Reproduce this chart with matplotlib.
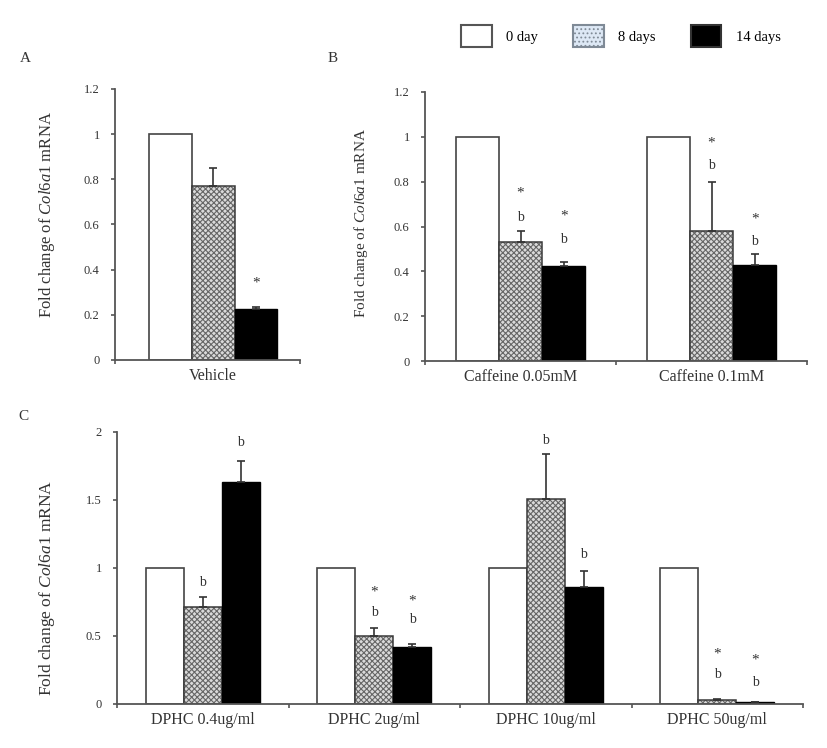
import numpy as np
import matplotlib
matplotlib.use('Agg')
import matplotlib.pyplot as plt
from matplotlib.patches import Patch
from matplotlib.ticker import FuncFormatter

plt.rcParams['font.family'] = ['Liberation Serif', 'DejaVu Serif']
plt.rcParams['mathtext.fontset'] = 'custom'
plt.rcParams['mathtext.rm'] = 'Liberation Serif'
plt.rcParams['mathtext.it'] = 'Liberation Serif:italic'
plt.rcParams['hatch.linewidth'] = 0.8

# ---- data ----
groups_a = ['Vehicle']
day0_a = [1.0]
day8_a = [0.77]
err8_a = [0.08]
day14_a = [0.226]
err14_a = [0.01]
notes_a = [(0, 2, '*', 0.34)]

groups_b = ['Caffeine 0.05mM', 'Caffeine 0.1mM']
day0_b = [1.0, 1.0]
day8_b = [0.53, 0.58]
err8_b = [0.05, 0.22]
day14_b = [0.424, 0.427]
err14_b = [0.018, 0.05]
notes_b = [(0, 1, 'b', 0.642), (0, 1, '*', 0.749),
           (0, 2, 'b', 0.544), (0, 2, '*', 0.647),
           (1, 1, 'b', 0.87), (1, 1, '*', 0.972),
           (1, 2, 'b', 0.531), (1, 2, '*', 0.633)]

groups_c = ['DPHC 0.4ug/ml', 'DPHC 2ug/ml', 'DPHC 10ug/ml', 'DPHC 50ug/ml']
day0_c = [1.0, 1.0, 1.0, 1.0]
day8_c = [0.713, 0.50, 1.51, 0.03]
err8_c = [0.074, 0.06, 0.33, 0.005]
day14_c = [1.63, 0.42, 0.86, 0.012]
err14_c = [0.16, 0.02, 0.12, 0.005]
notes_c = [(0, 1, 'b', 0.89), (0, 2, 'b', 1.92),
           (1, 1, 'b', 0.67), (1, 1, '*', 0.82),
           (1, 2, 'b', 0.62), (1, 2, '*', 0.76),
           (2, 1, 'b', 1.94), (2, 2, 'b', 1.10),
           (3, 1, 'b', 0.22), (3, 1, '*', 0.37),
           (3, 2, 'b', 0.16), (3, 2, '*', 0.32)]

series_names = ['0 day', '8 days', '14 days']
ylabel = 'Fold change of $\\it{Col6a1}$ mRNA'

AXIS_COL = '#555555'
HATCH_FACE = '#dadada'
HATCH_LINE = '#666666'


def draw_panel(ax, groups, d0, d8, e8, d14, e14, notes, ymax, yticks,
               width, label_fs, shift=0.0):
    x = np.arange(len(groups))
    offs = [-width, 0, width]
    ax.bar(x + offs[0], d0, width, color='white', edgecolor='#444444', lw=1.2)
    ax.bar(x + offs[1], d8, width, color=HATCH_FACE, hatch='xxxxxx',
           edgecolor=HATCH_LINE, lw=0)
    ax.bar(x + offs[1], d8, width, fill=False, edgecolor='#3a3a3a', lw=1.1)
    ax.bar(x + offs[2], d14, width, color='black', edgecolor='black', lw=1)
    z = np.zeros(len(groups))
    ax.errorbar(x + offs[1], d8, yerr=[z, e8], fmt='none', ecolor='#333333',
                elinewidth=1.2, capsize=3, capthick=1.2)
    ax.errorbar(x + offs[2], d14, yerr=[z, e14], fmt='none', ecolor='#333333',
                elinewidth=1.2, capsize=3, capthick=1.2)
    for g, s, txt, y in notes:
        ax.text(x[g] + offs[s], y, txt, ha='center', va='center',
                fontsize=10 if txt == 'b' else 11, color='#333333')

    ax.set_xlim(-0.5 - shift, len(groups) - 0.5 - shift)
    ax.set_ylim(0, ymax)
    ax.set_yticks(yticks)
    ax.yaxis.set_major_formatter(FuncFormatter(lambda v, p: '%g' % v))
    ax.set_xticks(np.arange(len(groups) + 1) - 0.5 - shift)
    ax.set_xticklabels([])
    ax.set_xticks(x, minor=True)
    ax.set_xticklabels(groups, minor=True, fontsize=11.5, color='#333333')
    ax.tick_params(axis='x', which='major', length=3, direction='out',
                   color=AXIS_COL, width=1.2)
    ax.tick_params(axis='x', which='minor', length=0, pad=6)
    ax.tick_params(axis='y', length=3, direction='out', color=AXIS_COL,
                   width=1.2, labelsize=9, pad=8, labelcolor='#333333')
    for side in ['top', 'right']:
        ax.spines[side].set_visible(False)
    for side in ['left', 'bottom']:
        ax.spines[side].set_color(AXIS_COL)
        ax.spines[side].set_linewidth(1.3)
    ax.set_ylabel(ylabel, fontsize=label_fs, color='#333333')


W, H = 827, 748
fig = plt.figure(figsize=(W / 100, H / 100), dpi=100)


def px_axes(l, r, top, bottom):
    return fig.add_axes([l / W, 1 - bottom / H, (r - l) / W, (bottom - top) / H])


ax_a = px_axes(115, 300, 89, 360)
ax_b = px_axes(425, 807, 92, 361)
ax_c = px_axes(117, 803, 432, 704)

draw_panel(ax_a, groups_a, day0_a, day8_a, err8_a, day14_a, err14_a, notes_a,
           1.2, [0, 0.2, 0.4, 0.6, 0.8, 1.0, 1.2], 0.232, 12, shift=0.03)
draw_panel(ax_b, groups_b, day0_b, day8_b, err8_b, day14_b, err14_b, notes_b,
           1.2, [0, 0.2, 0.4, 0.6, 0.8, 1.0, 1.2], 0.226, 11)
draw_panel(ax_c, groups_c, day0_c, day8_c, err8_c, day14_c, err14_c, notes_c,
           2.0, [0, 0.5, 1.0, 1.5, 2.0], 0.222, 12.5)

ax_a.yaxis.set_label_coords(57 / W, 1 - 215 / H, transform=fig.transFigure)
ax_b.yaxis.set_label_coords(370 / W, 1 - 223 / H, transform=fig.transFigure)
ax_c.yaxis.set_label_coords(57 / W, 1 - 588 / H, transform=fig.transFigure)

fig.text(25 / W, 1 - 58 / H, 'A', fontsize=11, ha='center', va='center', color='#333333')
fig.text(333 / W, 1 - 58 / H, 'B', fontsize=11, ha='center', va='center', color='#333333')
fig.text(23 / W, 1 - 416 / H, 'C', fontsize=11, ha='center', va='center', color='#333333')

handles = [
    Patch(facecolor='white', edgecolor='#555555', lw=1.5),
    Patch(facecolor='#dde8f5', edgecolor='#7f8a96', hatch='....', lw=1.5),
    Patch(facecolor='black', edgecolor='#333333', lw=1.5),
]
fig.legend(handles, series_names, loc='center', ncol=3, frameon=False,
           bbox_to_anchor=(621 / W, 1 - 36 / H), fontsize=10.5,
           handlelength=2.1, handleheight=1.9, handletextpad=1.0,
           columnspacing=2.4)

fig.savefig('out.png', dpi=100)
